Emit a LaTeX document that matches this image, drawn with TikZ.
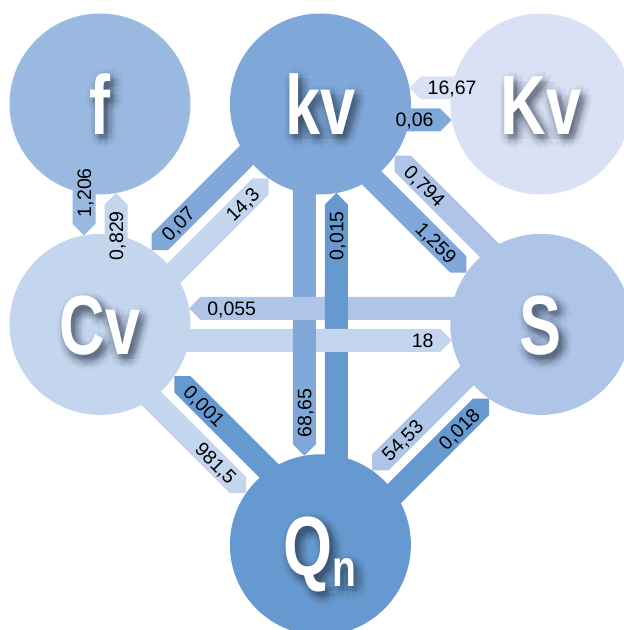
\documentclass[tikz,border=0pt]{standalone}
\usepackage{fontspec}
\setmainfont{Liberation Sans}
\newfontfamily\hubfont[FakeStretch=0.75]{Liberation Sans Bold}
\usetikzlibrary{calc,positioning,backgrounds}
\definecolor{fblue}{HTML}{9AB9E1}
\definecolor{kvblue}{HTML}{7FA8D9}
\definecolor{bigkvblue}{HTML}{D9E2F4}
\definecolor{cvblue}{HTML}{C4D5EE}
\definecolor{sblue}{HTML}{AFC5E7}
\definecolor{qnblue}{HTML}{6699CF}
\definecolor{shadowgrey}{HTML}{2E3B4E}
\tikzset{
  hub/.style={circle, fill=#1, minimum size=181pt, inner sep=0pt},
  hubtext/.style={text=white, font=\hubfont\fontsize{84}{84}\selectfont, inner sep=0pt, text height=61pt, text depth=0pt},
  hubshadow/.style={hubtext, text=shadowgrey, text opacity=0.03},
  flowlabel/.style={font=\fontsize{19.5}{20}\selectfont, inner sep=0pt, text height=14pt, text depth=0pt}
}
% bar from #1 to #2 on the right-hand side, tip on the border of #2
\newcommand\flowbar[3]{%
  \fill[#3] let \p1=($(#2)-(#1)$), \n1={atan2(\y1,\x1)}, \n2={\n1-90},
    \n3={veclen(\x1,\y1)-89.1}, \n4={\n3-11.5} in
    ($(#1)+(\n2:4.5)$) -- ($(#1)+(\n2:4.5)+(\n1:\n4)$) -- ($(#1)+(\n2:16)+(\n1:\n3)$)
    -- ($(#1)+(\n2:27.5)+(\n1:\n4)$) -- ($(#1)+(\n2:27.5)$) -- cycle;
}
% value written next to the tip
\newcommand\flowtext[3]{%
  \path let \p1=($(#2)-(#1)$), \n1={atan2(\y1,\x1)}, \n2={\n1-90},
    \n3={veclen(\x1,\y1)-89.1-18}, \n4={\n1-180*(\n1>91)+180*(\n1<-89)}, \n5={\n1-\n4} in
    node[flowlabel, rotate=\n4, anchor=\n5] at ($(#1)+(\n2:16)+(\n1:\n3)$) {#3};
}
\begin{document}
\begin{tikzpicture}[x=1pt, y=1pt, node distance=39pt]
\useasboundingbox (0,0) rectangle (624,630);
\clip (0,0) rectangle (624,630);
% hubs
\node[hub=fblue] (f) at (100,526) {};
\node[hub=kvblue, right=of f] (kv) {};
\node[hub=bigkvblue, right=of kv] (Kv) {};
\node[hub=cvblue, below=of f] (Cv) {};
\node[hub=sblue, below=of Kv] (S) {};
\node[hub=qnblue, below=of Cv.south -| kv] (Qn) {};
% bars, woven where they cross
\begin{pgfonlayer}{background}
\foreach \a/\b/\c in {Qn/kv/qnblue, Cv/S/cvblue, kv/Qn/kvblue, S/Cv/sblue,
    f/Cv/fblue, Cv/f/cvblue, kv/Cv/kvblue, Cv/kv/cvblue, kv/Kv/kvblue, Kv/kv/bigkvblue,
    kv/S/kvblue, S/kv/sblue, Qn/Cv/qnblue, Cv/Qn/cvblue, S/Qn/sblue, Qn/S/qnblue}
  {\flowbar{\a}{\b}{\c}}
\begin{scope}
  \clip ($(Qn |- Cv)+(0,2)$) rectangle ($(Qn |- Cv)+(32,30)$);
  \flowbar{Qn}{kv}{qnblue}
\end{scope}
\end{pgfonlayer}
% letters with soft shadow
\foreach \h/\t in {f/f, kv/kv, Kv/Kv, Cv/Cv, S/S, Qn/{Q\raisebox{-11pt}{\fontsize{52}{52}\selectfont n}}}{
  \foreach \r in {1.5,3.5,5.5,7.5,9.5}
    \foreach \w in {0,45,...,315}
      \node[hubshadow] at ($(\h)+(4,-5)+(\w:\r)$) {\t};
  \node[hubtext] at (\h) {\t};
}
% values
\foreach \a/\b/\t in {f/Cv/{1,206}, Cv/f/{0,829}, kv/Cv/{0,07}, Cv/kv/{14,3},
    kv/Kv/{0,06}, Kv/kv/{16,67}, kv/S/{1,259}, S/kv/{0,794}, kv/Qn/{68,65},
    Qn/kv/{0,015}, S/Cv/{0,055}, Cv/S/18, Qn/Cv/{0,001}, Cv/Qn/{981,5},
    S/Qn/{54,53}, Qn/S/{0,018}}
  {\flowtext{\a}{\b}{\t}}
\end{tikzpicture}
\end{document}
